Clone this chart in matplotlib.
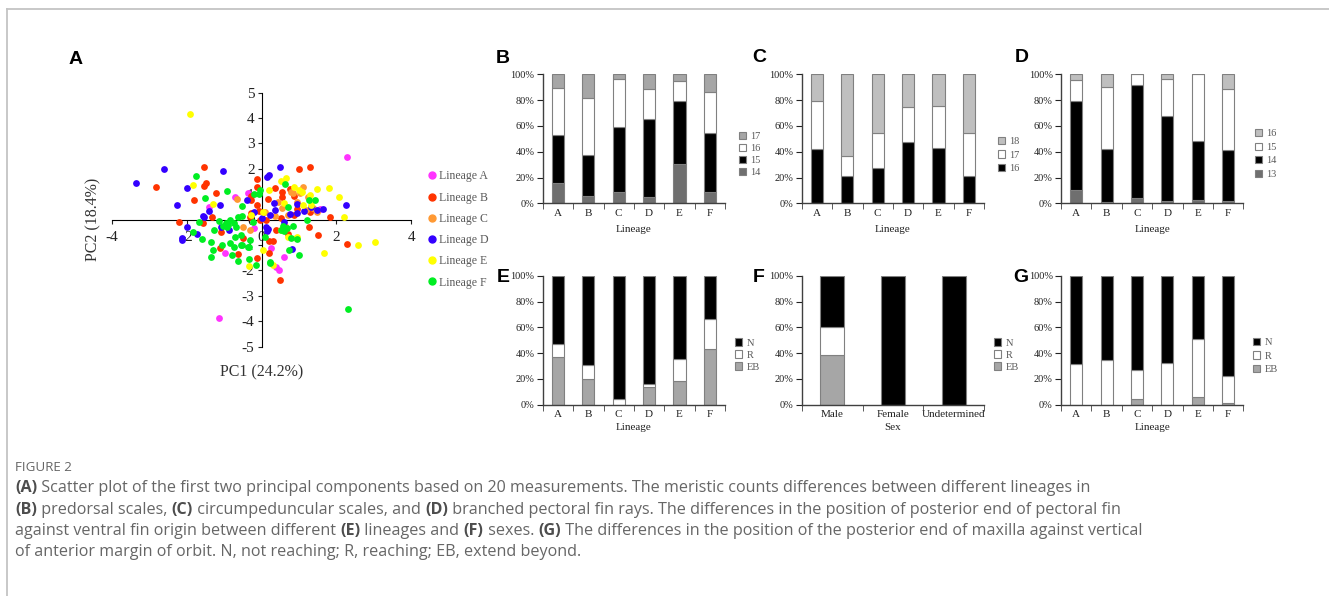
import numpy as np
import matplotlib
matplotlib.use('Agg')
import matplotlib.pyplot as plt
from matplotlib.lines import Line2D
from matplotlib.patches import Patch

plt.rcParams['font.family'] = 'Liberation Serif'
plt.rcParams['axes.unicode_minus'] = False

# ---- data: panel A (PC1, PC2 scores per lineage) ----
a_pc1 = [-1.14, 2.29, 0.46, 0.61, -0.71, -0.36, -0.98, 1.56, -1.41, 0.40, -0.20, 0.25]
a_pc2 = [-3.88, 2.48, -2.00, -1.47, 0.90, 1.06, -1.31, 0.40, 0.51, -1.85, -0.35, -1.10]

b_pc1 = [-1.54, -2.83, -1.54, -1.49, -1.80, -1.22, -1.31, -2.19, -1.56, -1.10, -0.62, -1.08,
         -0.27, -0.31, -0.13, -0.07, -0.04, -0.11, -0.11, -0.27, -0.27, -0.13, 0.19, 0.20,
         0.49, 1.50, 1.83, 2.29, 1.00, 1.30, 0.76, 0.86, 0.37, 0.54, 0.56, 1.29, 0.86, 0.94,
         0.18, 0.13, 0.51, 0.32, 0.40, 0.71, -0.50, 1.26]
b_pc2 = [2.09, 1.30, 1.34, 1.43, 0.77, 1.03, 0.11, -0.09, -0.15, -1.10, -1.34, -0.47,
         0.27, 0.09, 0.57, 0.35, 0.00, 1.61, 1.30, 0.93, 0.77, -1.53, -1.30, -0.84,
         -2.39, -0.59, 0.09, -0.97, 2.00, 2.07, 1.19, 0.93, 1.23, 1.10, 0.90, 0.31, 0.18, 0.40,
         0.81, -0.02, 0.05, -0.84, -0.42, -0.55, -0.74, -0.28]

c_pc1 = [-0.65, 1.11, 1.04, 0.85, 0.80, 1.20, 1.38, 0.44, 0.62, -0.31, 1.47, 0.35, 0.95,
         1.25, 0.10, 0.55, -0.50, 0.70]
c_pc2 = [0.82, 1.30, 1.03, 1.03, 1.10, 0.38, 0.44, 0.70, -0.26, -0.42, 0.31, 0.15, 0.70,
         0.90, 0.30, 0.45, -0.30, 0.20]

d_pc1 = [-2.60, -3.36, -1.04, -2.00, -2.25, -1.41, -1.56, -1.99, -2.13, -2.11, -1.71, -1.08,
         -0.20, 0.20, 0.15, -0.40, 0.18, 0.13, 0.82, 0.49, 0.33, 0.36, 0.22, 0.61, 0.15, 0.76,
         0.94, 1.31, 1.14, 1.65, 1.47, 2.25, 0.00, -1.10, -1.53, -0.86, 0.94]
d_pc2 = [2.00, 1.43, 1.92, 1.23, 0.56, 0.33, 0.13, -0.31, -0.80, -0.71, -0.56, -0.29,
         0.31, 1.74, 1.66, 0.77, -0.39, -0.28, -1.16, 2.06, 0.67, 0.37, 0.17, -0.09, -0.46, 0.24,
         0.27, 0.51, 0.34, 0.41, 0.37, 0.59, 0.07, 0.58, 0.11, -0.42, 0.61]

e_pc1 = [-1.90, -1.82, -1.29, -0.34, 0.52, 0.65, 0.86, 1.01, 1.09, 1.47, 1.80, 2.07, 1.29,
         2.20, 2.59, 3.04, 1.68, 0.94, 0.20, 1.12, 1.33, 0.61, 0.04, 0.53, 0.70, 0.93, 0.04,
         0.31, -0.28]
e_pc2 = [4.18, 1.36, 0.60, -1.84, 1.53, 1.63, 1.29, 1.17, 1.10, 1.20, 1.26, 0.88, 0.97,
         0.11, -1.01, -0.88, -1.30, -0.68, 1.17, 0.58, 0.57, 0.64, 0.31, -0.42, -0.70, -0.72, -1.21,
         -1.80, 0.20]

f_pc1 = [-1.76, -1.51, -0.92, -0.51, -1.66, -1.27, -1.36, -1.29, -1.34, -1.05, -0.80, -0.62,
         -0.33, -0.33, -0.53, -0.89, -0.71, -0.55, -0.16, 0.22, -0.04, -0.08, -0.20, -0.52,
         -0.64, -0.94, -0.85, -1.02, -0.92, -1.14, -0.73, -0.69, -0.35, -0.56, -0.74, -0.85,
         -0.31, -0.22, 0.09, 0.69, 0.60, 0.85, 0.71, 0.63, 1.26, 1.43, 1.22, 1.01, 0.74, 2.30,
         0.24, 0.79, 0.94, 0.58, 0.51, -1.60, -1.83]
f_pc2 = [1.73, 0.84, 1.14, 0.55, -0.10, -0.42, -0.90, -1.20, -1.47, -1.00, -1.39, -1.63,
         -1.54, -1.07, -1.00, -0.22, -0.68, -0.61, -1.80, -1.67, 1.17, 0.99, 1.02, 0.16,
         0.11, -0.13, -0.02, -0.26, -0.31, -0.05, -0.15, -0.31, -1.07, -1.01, -1.07, -0.92,
         -0.81, -0.09, -0.68, -0.32, -0.44, -0.24, 0.51, 1.40, 0.77, 0.76, 0.00, -1.38, -1.21, -3.52,
         -1.71, -0.74, -0.78, -0.26, -0.42, -0.78, -0.48]

lineage_names = ['Lineage A', 'Lineage B', 'Lineage C', 'Lineage D', 'Lineage E', 'Lineage F']
lineage_colors = ['#ff33ff', '#ff3300', '#ff9933', '#3300ff', '#ffff00', '#00ee22']

# ---- data: stacked bars (percent of each class) ----
lineages = ['A', 'B', 'C', 'D', 'E', 'F']
sexes = ['Male', 'Female', 'Undetermined']

pre_14 = [15.6, 5.7, 8.6, 5.2, 30.1, 9.1]
pre_15 = [37.1, 31.4, 50.6, 60.3, 49.1, 45.7]
pre_16 = [36.9, 44.7, 36.9, 23.0, 15.6, 31.7]
pre_17 = [10.4, 18.2, 3.9, 11.5, 5.2, 13.5]

cir_16 = [41.8, 20.8, 27.3, 47.5, 42.6, 21.3]
cir_17 = [37.7, 15.8, 27.5, 26.8, 33.2, 33.5]
cir_18 = [20.5, 63.4, 45.2, 25.7, 24.2, 45.2]

pec_13 = [10.4, 1.0, 4.2, 2.0, 2.9, 2.0]
pec_14 = [68.8, 41.1, 87.2, 65.8, 45.4, 39.6]
pec_15 = [16.1, 48.3, 8.6, 28.3, 51.7, 46.7]
pec_16 = [4.7, 9.6, 0.0, 3.9, 0.0, 11.7]

fin_eb = [36.9, 20.1, 0.0, 13.9, 18.3, 42.8]
fin_r = [10.0, 10.6, 4.4, 2.1, 17.5, 23.4]
fin_n = [53.1, 69.3, 95.6, 84.0, 64.2, 33.8]

sex_eb = [38.7, 0.0, 0.0]
sex_r = [21.4, 0.0, 0.0]
sex_n = [39.9, 100.0, 100.0]

max_eb = [0.0, 0.0, 4.4, 0.0, 6.2, 1.5]
max_r = [31.4, 34.3, 22.4, 32.7, 45.1, 20.9]
max_n = [68.6, 65.7, 73.2, 67.3, 48.7, 77.6]

W, H = 1329, 596
fig = plt.figure(figsize=(W / 100, H / 100), dpi=100)


def fx(px):
    return px / W


def fy(py):
    return 1 - py / H


# frame lines of the figure box
fig.add_artist(Line2D([fx(7), 1], [fy(9), fy(9)], transform=fig.transFigure, color='#c4c4c4', lw=1.3))
fig.add_artist(Line2D([fx(7), fx(7)], [fy(9), 0], transform=fig.transFigure, color='#c4c4c4', lw=1.3))

# ---- panel A ----
ax = fig.add_axes([fx(111.7), fy(346.5), (411.3 - 111.7) / W, (346.5 - 92.7) / H])
pcs = [(a_pc1, a_pc2), (b_pc1, b_pc2), (c_pc1, c_pc2), (d_pc1, d_pc2), (e_pc1, e_pc2), (f_pc1, f_pc2)]
for (px_, py_), col, name in zip(pcs, lineage_colors, lineage_names):
    ax.scatter(px_, py_, s=24, color=col, linewidths=0, label=name, zorder=3)
ax.set_xlim(-4, 4)
ax.set_ylim(-5, 5)
ax.spines['left'].set_position(('data', 0))
ax.spines['bottom'].set_position(('data', 0))
ax.spines['top'].set_visible(False)
ax.spines['right'].set_visible(False)
ax.set_xticks([-4, -2, 0, 2, 4])
ax.set_yticks(range(-5, 6))
ax.tick_params(axis='x', direction='out', length=3, pad=5, labelsize=11, colors='#222222')
ax.tick_params(axis='y', direction='out', length=3, pad=2, labelsize=11, colors='#222222')
ax.patch.set_alpha(0)
fig.text(fx(93), fy(219), 'PC2 (18.4%)', rotation=90, ha='center', va='center', fontsize=11.5, color='#333333')
fig.text(fx(262), fy(372), 'PC1 (24.2%)', ha='center', va='center', fontsize=11.5, color='#333333')
handles = [Line2D([], [], marker='o', ls='', color=c, markersize=5) for c in lineage_colors]
ax.legend(handles, lineage_names, loc='center left', bbox_to_anchor=(fx(428), fy(229.5)),
          bbox_transform=fig.transFigure, frameon=False, fontsize=8.5, labelspacing=0.78,
          handlelength=0.6, handletextpad=0.3, borderpad=0, borderaxespad=0, labelcolor='#595959')


# ---- stacked bar panels ----
def stacked(left, top, cats, segs, colors, names, xlabel, leg_x, leg_y, spacing, labelpad):
    axb = fig.add_axes([fx(left), fy(top + 129), 182.4 / W, 129 / H])
    x = np.arange(len(cats))
    bottom = np.zeros(len(cats))
    for seg, col, name in zip(segs, colors, names):
        axb.bar(x, seg, 0.4, bottom=bottom, color=col, edgecolor='#808080', linewidth=0.8, zorder=2)
        bottom += np.array(seg)
    axb.set_xlim(-0.5, len(cats) - 0.5)
    axb.set_ylim(0, 100)
    axb.set_yticks(range(0, 101, 20))
    axb.set_yticklabels(['%d%%' % v for v in range(0, 101, 20)])
    axb.set_xticks(x)
    axb.set_xticklabels(cats)
    axb.set_xticks(np.arange(-0.5, len(cats), 1), minor=True)
    axb.tick_params(axis='x', which='major', length=0, pad=4, labelsize=8, colors='#222222')
    axb.tick_params(axis='x', which='minor', length=4, direction='out', color='#404040')
    axb.tick_params(axis='y', length=4, direction='out', pad=2, labelsize=7.5, colors='#222222')
    for s in ['top', 'right']:
        axb.spines[s].set_visible(False)
    for s in ['left', 'bottom']:
        axb.spines[s].set_color('#404040')
        axb.spines[s].set_linewidth(1)
    axb.set_xlabel(xlabel, fontsize=8, labelpad=labelpad, color='#222222')
    hs = [Patch(facecolor=c, edgecolor='#808080', linewidth=0.8) for c in colors][::-1]
    axb.legend(hs, names[::-1], loc='center left', bbox_to_anchor=(fx(leg_x), fy(leg_y)),
               bbox_transform=fig.transFigure, frameon=False, fontsize=7.5, labelspacing=spacing,
               handlelength=0.7, handleheight=0.7, handletextpad=0.4, borderpad=0,
               borderaxespad=0, labelcolor='#595959')
    return axb


dark, light, lighter = '#6f6f6f', '#a6a6a6', '#bfbfbf'
stacked(542.7, 74.3, lineages, [pre_14, pre_15, pre_16, pre_17], [dark, 'black', 'white', light],
        ['14', '15', '16', '17'], 'Lineage', 739, 154.5, 0.25, 5)
stacked(801.7, 74.3, lineages, [cir_16, cir_17, cir_18], ['black', 'white', lighter],
        ['16', '17', '18'], 'Lineage', 998, 155, 0.4, 5)
stacked(1061, 74.3, lineages, [pec_13, pec_14, pec_15, pec_16], [dark, 'black', 'white', lighter],
        ['13', '14', '15', '16'], 'Lineage', 1255, 154, 0.4, 5)
stacked(542.7, 275.7, lineages, [fin_eb, fin_r, fin_n], [light, 'white', 'black'],
        ['EB', 'R', 'N'], 'Lineage', 735, 355, 0.25, 3)
stacked(801.7, 275.7, sexes, [sex_eb, sex_r, sex_n], [light, 'white', 'black'],
        ['EB', 'R', 'N'], 'Sex', 994, 355, 0.25, 3)
stacked(1061, 275.7, lineages, [max_eb, max_r, max_n], [light, 'white', 'black'],
        ['EB', 'R', 'N'], 'Lineage', 1253, 356, 0.4, 3)

# panel letters
for lab, px_, py_ in [('A', 75.5, 59), ('B', 503, 58.5), ('C', 759, 58), ('D', 1022, 58),
                      ('E', 503, 277), ('F', 759, 277), ('G', 1021, 277)]:
    fig.text(fx(px_), fy(py_), lab, ha='center', va='center', fontsize=14,
             fontweight='bold', family='Liberation Sans', color='black')

# ---- caption ----
cap_font = 'Open Sans'
cap_size = 11.65
cap_col = '#666666'
fig.text(fx(15), fy(471), 'FIGURE 2', fontsize=9.6, family=cap_font, color='#666666', va='baseline')
lines = [
    [('(A)', True), (' Scatter plot of the first two principal components based on 20 measurements. '
                     'The meristic counts differences between different lineages in', False)],
    [('(B)', True), (' predorsal scales, ', False), ('(C)', True), (' circumpeduncular scales, and ', False),
     ('(D)', True), (' branched pectoral fin rays. The differences in the position of posterior end of pectoral fin', False)],
    [('against ventral fin origin between different ', False), ('(E)', True), (' lineages and ', False),
     ('(F)', True), (' sexes. ', False), ('(G)', True),
     (' The differences in the position of the posterior end of maxilla against vertical', False)],
    [('of anterior margin of orbit. N, not reaching; R, reaching; EB, extend beyond.', False)],
]
renderer = fig.canvas.get_renderer()
for i, parts in enumerate(lines):
    xpos = 15.0
    base = 492 + i * 21.5
    for txt, bold in parts:
        t = fig.text(fx(xpos), fy(base), txt, fontsize=cap_size, family=cap_font,
                     fontweight='bold' if bold else 'normal',
                     color='#4d4d4d' if bold else cap_col, va='baseline', ha='left')
        xpos += t.get_window_extent(renderer).width

fig.savefig('out.png', dpi=100)
